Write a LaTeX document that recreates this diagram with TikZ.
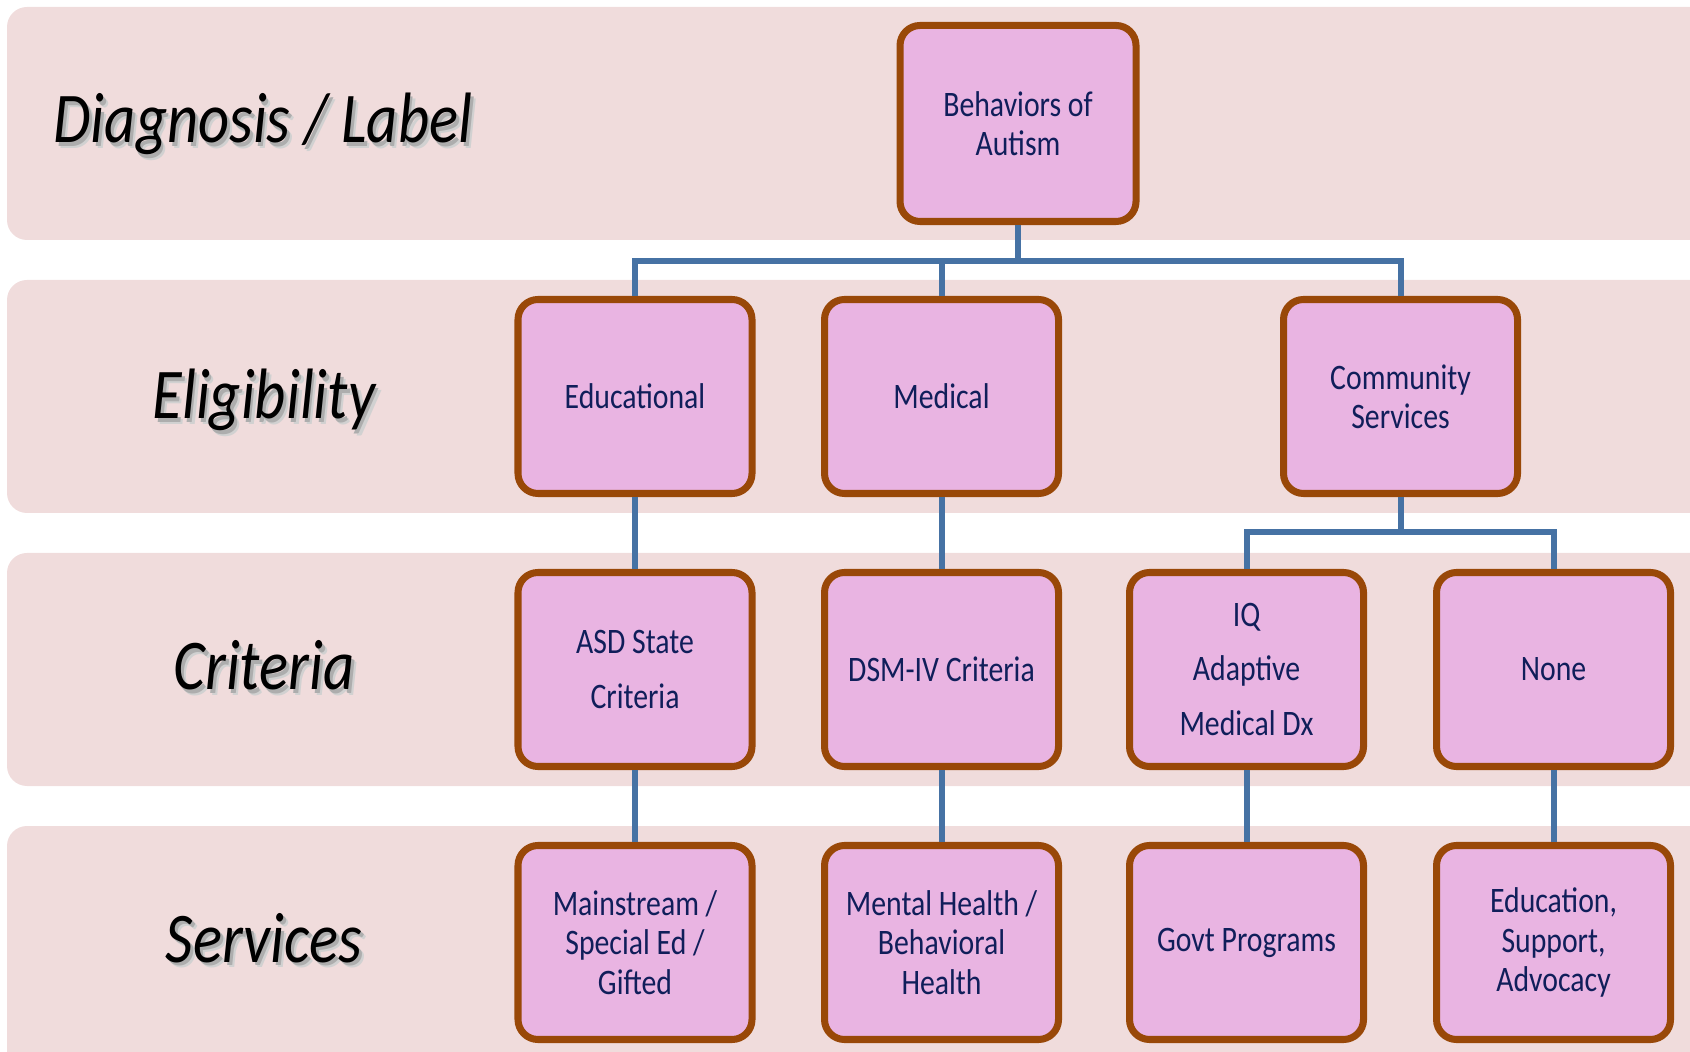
\documentclass[tikz,border=0pt]{standalone}
\usepackage{fontspec}
\setmainfont{Carlito}
\newfontfamily\boxfont[FakeStretch=0.83]{Carlito}
\newfontfamily\lblfont[FakeStretch=0.85]{Carlito}
\usetikzlibrary{positioning}

\definecolor{bandpink}{RGB}{240,220,220}
\definecolor{boxpink}{RGB}{233,180,226}
\definecolor{boxbrown}{RGB}{153,72,8}
\definecolor{boxtext}{RGB}{16,30,90}
\definecolor{linkblue}{RGB}{70,114,164}

% text with a soft drop shadow
\newcommand{\shadowed}[1]{%
  \rlap{\kern1.4pt\raisebox{-1.6pt}{\textcolor{black!18}{#1}}}%
  \rlap{\kern0.8pt\raisebox{-1.0pt}{\textcolor{black!32}{#1}}}#1}

\begin{document}
\begin{tikzpicture}
  \tikzset{
    node distance=2.73cm,
    band/.style={fill=bandpink,rounded corners=0.2cm},
    box/.style={rectangle,rounded corners=0.2cm,draw=boxbrown,line width=2pt,fill=boxpink,
      minimum width=2.34cm,minimum height=1.94cm,inner sep=2pt,align=center,text=boxtext,
      font=\boxfont\fontsize{10.2}{11.2}\selectfont},
    critbox/.style={box,font=\boxfont\fontsize{10.2}{15.4}\selectfont},
    link/.style={draw=linkblue,line width=1.7pt},
    lbl/.style={anchor=base,font=\lblfont\itshape\fontsize{20.3}{24}\selectfont}
  }
  \useasboundingbox (0,0) rectangle (16.9,-10.52);

  % bands
  \fill[band] (0.07,-0.07) rectangle (17.3,-2.40);
  \fill[band] (0.07,-2.80) rectangle (17.3,-5.13);
  \fill[band] (0.07,-5.53) rectangle (17.3,-7.86);
  \fill[band] (0.07,-8.26) rectangle (17.3,-10.8);

  % row labels
  \node[lbl] (diag) at (2.63,-1.43) {\shadowed{Diagnosis / Label}};
  \node[lbl] (elig) at (2.64,-4.19) {\shadowed{Eligibility}};
  \node[lbl] (crit) at (2.64,-6.90) {\shadowed{Criteria}};
  \node[lbl] (serv) at (2.64,-9.62) {\shadowed{Services}};

  % tree
  \node[box,minimum width=2.36cm,minimum height=1.96cm] (autism) at (10.18,-1.235) {Behaviors of\\Autism};
  \node[box,below of=autism,xshift=-3.83cm] (edu) {Educational};
  \node[box,node distance=3.065cm,right of=edu] (med) {Medical};
  \node[box,node distance=4.59cm,right of=med] (com) {Community\\Services};

  \node[critbox,below of=edu] (asd) {ASD State\\Criteria};
  \node[critbox,below of=med] (dsm) {DSM-IV Criteria};
  \node[critbox,below of=com,xshift=-1.54cm] (iq) {IQ\\Adaptive\\Medical Dx};
  \node[critbox,below of=com,xshift=1.53cm] (none) {None};

  \node[box,below of=asd] (mainstream) {Mainstream /\\Special Ed /\\Gifted};
  \node[box,below of=dsm] (mental) {Mental Health /\\Behavioral\\Health};
  \node[box,below of=iq] (govt) {Govt Programs};
  \node[box,below of=none] (advocacy) {Education,\\Support,\\Advocacy};

  % connectors
  \draw[link] (autism.south) -- ++(0,-0.36) -| (edu.north);
  \draw[link] (autism.south) -- ++(0,-0.36) -| (med.north);
  \draw[link] (autism.south) -- ++(0,-0.36) -| (com.north);
  \draw[link] (com.south) -- ++(0,-0.35) -| (iq.north);
  \draw[link] (com.south) -- ++(0,-0.35) -| (none.north);
  \draw[link] (edu) -- (asd);
  \draw[link] (med) -- (dsm);
  \draw[link] (asd) -- (mainstream);
  \draw[link] (dsm) -- (mental);
  \draw[link] (iq) -- (govt);
  \draw[link] (none) -- (advocacy);
\end{tikzpicture}
\end{document}
